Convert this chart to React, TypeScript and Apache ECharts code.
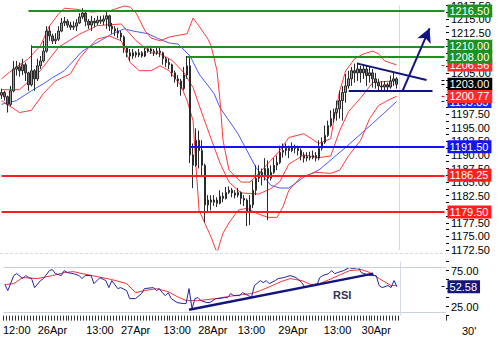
import React, { useEffect, useRef } from 'react';
import * as echarts from 'echarts';

// ---------- data ----------
const SLOT_COUNT = 149; // bars + empty future slots
const xLabelIndex = [4, 16, 32, 44, 58, 70, 83, 97, 112, 125];
const xLabelText = ['12:00', '26Apr', '13:00', '27Apr', '13:00', '28Apr', '13:00', '29Apr', '13:00', '30Apr'];
const currentIndex = 133;

// [open, close, low, high]
const candles: number[][] = [
  [1201.0, 1201.5, 1200.3, 1202.2], [1201.5, 1200.7, 1200.0, 1201.8], [1200.7, 1199.3, 1197.8, 1200.9], [1199.3, 1201.8, 1199.0, 1202.7],
  [1201.8, 1205.8, 1201.5, 1207.3], [1205.8, 1206.2, 1204.6, 1207.3], [1206.2, 1205.5, 1204.4, 1207.0], [1205.5, 1206.6, 1204.7, 1207.7],
  [1206.6, 1205.1, 1203.6, 1207.0], [1205.1, 1202.9, 1201.8, 1205.3], [1202.9, 1205.5, 1202.6, 1210.2], [1205.5, 1204.0, 1201.8, 1205.8],
  [1204.0, 1206.4, 1203.6, 1207.7], [1206.4, 1207.3, 1205.8, 1208.2], [1207.3, 1209.1, 1207.0, 1211.0], [1209.1, 1212.8, 1208.8, 1213.7],
  [1212.8, 1211.9, 1211.0, 1213.7], [1211.9, 1211.0, 1210.4, 1212.3], [1211.0, 1211.3, 1210.4, 1212.4], [1211.3, 1212.8, 1211.0, 1213.7],
  [1212.8, 1214.3, 1212.6, 1215.2], [1214.3, 1214.6, 1213.7, 1215.4], [1214.6, 1213.9, 1213.4, 1215.0], [1213.9, 1213.5, 1213.0, 1214.5],
  [1213.5, 1213.7, 1213.0, 1214.6], [1213.7, 1214.3, 1212.8, 1215.0], [1214.3, 1215.4, 1214.1, 1216.1], [1215.4, 1216.1, 1215.0, 1217.0],
  [1216.1, 1214.6, 1213.7, 1216.3], [1214.6, 1213.9, 1213.2, 1215.0], [1213.9, 1214.6, 1212.8, 1215.6], [1214.6, 1214.3, 1213.5, 1215.2],
  [1214.3, 1214.8, 1213.9, 1215.6], [1214.8, 1214.6, 1214.1, 1215.6], [1214.6, 1215.0, 1213.9, 1215.7], [1215.0, 1215.6, 1213.2, 1216.5],
  [1215.6, 1213.7, 1212.8, 1215.8], [1213.7, 1213.2, 1212.3, 1214.3], [1213.2, 1212.8, 1211.9, 1213.7], [1212.8, 1212.4, 1211.5, 1213.4],
  [1212.4, 1211.7, 1211.0, 1212.8], [1211.7, 1209.9, 1208.8, 1212.0], [1209.9, 1208.8, 1208.0, 1210.1], [1208.8, 1208.2, 1207.3, 1209.5],
  [1208.2, 1208.8, 1207.7, 1209.5], [1208.8, 1208.4, 1207.9, 1209.1], [1208.4, 1208.8, 1208.0, 1209.5], [1208.8, 1208.2, 1207.9, 1209.1],
  [1208.2, 1209.1, 1208.0, 1209.7], [1209.1, 1209.5, 1208.8, 1210.1], [1209.5, 1209.1, 1208.6, 1210.1], [1209.1, 1208.8, 1208.2, 1209.5],
  [1208.8, 1209.1, 1208.4, 1209.7], [1209.1, 1208.8, 1208.0, 1209.7], [1208.8, 1207.7, 1206.6, 1209.0], [1207.7, 1207.0, 1206.2, 1208.0],
  [1207.0, 1206.6, 1205.8, 1207.7], [1206.6, 1205.1, 1204.4, 1206.8], [1205.1, 1204.0, 1203.3, 1205.5], [1204.0, 1203.6, 1202.5, 1204.7],
  [1203.6, 1202.2, 1200.9, 1204.0], [1202.2, 1204.7, 1201.9, 1206.2], [1204.7, 1206.4, 1204.0, 1208.2], [1206.4, 1190.0, 1188.5, 1208.0],
  [1190.0, 1188.1, 1183.9, 1192.1], [1188.1, 1192.7, 1187.8, 1194.9], [1192.7, 1190.8, 1187.5, 1194.5], [1190.8, 1188.1, 1186.2, 1192.7],
  [1188.1, 1180.8, 1177.6, 1188.4], [1180.8, 1181.7, 1179.5, 1182.6], [1181.7, 1181.3, 1179.8, 1182.6], [1181.3, 1181.7, 1180.6, 1182.6],
  [1181.7, 1181.1, 1180.4, 1182.2], [1181.1, 1182.4, 1180.9, 1183.5], [1182.4, 1182.0, 1181.3, 1183.1], [1182.0, 1183.1, 1181.8, 1184.1],
  [1183.1, 1183.5, 1182.8, 1184.2], [1183.5, 1183.0, 1182.2, 1183.9], [1183.0, 1182.6, 1182.0, 1183.5], [1182.6, 1183.1, 1182.2, 1183.9],
  [1183.1, 1182.0, 1180.9, 1183.3], [1182.0, 1181.7, 1180.6, 1182.6], [1181.7, 1179.5, 1176.9, 1182.0], [1179.5, 1180.8, 1177.1, 1182.6],
  [1180.8, 1183.5, 1180.2, 1185.3], [1183.5, 1185.7, 1182.6, 1188.1], [1185.7, 1186.8, 1185.0, 1188.1], [1186.8, 1186.2, 1184.4, 1187.5],
  [1186.2, 1187.5, 1185.3, 1189.4], [1187.5, 1185.7, 1178.0, 1189.0], [1185.7, 1186.8, 1185.3, 1188.1], [1186.8, 1188.1, 1186.5, 1189.4],
  [1188.1, 1188.6, 1187.2, 1189.9], [1188.6, 1190.5, 1188.3, 1191.7], [1190.5, 1190.8, 1189.5, 1192.1], [1190.8, 1191.2, 1189.9, 1192.1],
  [1191.2, 1190.8, 1189.4, 1191.7], [1190.8, 1191.6, 1190.5, 1192.3], [1191.6, 1191.2, 1190.3, 1191.9], [1191.2, 1190.8, 1189.9, 1191.7],
  [1190.8, 1189.9, 1189.0, 1191.2], [1189.9, 1189.4, 1188.6, 1190.5], [1189.4, 1189.7, 1188.8, 1190.5], [1189.7, 1189.5, 1189.0, 1190.6],
  [1189.5, 1189.9, 1189.2, 1190.8], [1189.9, 1189.4, 1188.8, 1190.5], [1189.4, 1191.2, 1189.0, 1192.7], [1191.2, 1192.3, 1190.8, 1193.2],
  [1192.3, 1193.6, 1192.0, 1195.4], [1193.6, 1195.4, 1193.3, 1196.3], [1195.4, 1196.7, 1195.1, 1198.2], [1196.7, 1197.8, 1196.0, 1198.5],
  [1197.8, 1198.5, 1196.3, 1200.0], [1198.5, 1200.0, 1196.7, 1201.8], [1200.0, 1201.5, 1196.3, 1202.7], [1201.5, 1202.7, 1199.6, 1204.9],
  [1202.7, 1204.0, 1202.2, 1205.5], [1204.0, 1205.5, 1202.7, 1206.2], [1205.5, 1205.1, 1203.3, 1206.8], [1205.1, 1205.8, 1203.6, 1207.0],
  [1205.8, 1205.1, 1203.3, 1206.4], [1205.1, 1205.8, 1204.0, 1206.6], [1205.8, 1204.6, 1202.7, 1206.4], [1204.6, 1205.1, 1203.3, 1206.2],
  [1205.1, 1204.0, 1202.4, 1205.8], [1204.0, 1203.3, 1202.2, 1205.1], [1203.3, 1202.7, 1201.8, 1204.0], [1202.7, 1202.5, 1201.8, 1203.6],
  [1202.5, 1202.9, 1201.8, 1203.6], [1202.9, 1202.5, 1201.8, 1203.3], [1202.5, 1203.6, 1202.2, 1204.6], [1203.6, 1204.0, 1202.7, 1205.1],
  [1204.0, 1203.0, 1202.2, 1204.3],
];

// [bar index, value]
const upperBand: number[][] = [
  [0, 1204.0], [4, 1205.8], [9, 1207.7], [13, 1210.1], [16, 1213.7], [19, 1215.9], [21, 1217.0], [25, 1216.8], [30, 1216.3],
  [36, 1216.5], [41, 1217.4], [43, 1217.2], [45, 1216.1], [48, 1212.8], [50, 1211.5], [53, 1211.0], [56, 1211.7], [60, 1212.1],
  [62, 1212.3], [64, 1215.2], [66, 1213.7], [69, 1211.3], [70, 1210.1], [72, 1205.5], [73, 1200.0], [74, 1192.7], [76, 1187.2],
  [80, 1185.0], [83, 1185.0], [86, 1186.6], [90, 1189.0], [93, 1190.8], [96, 1193.2], [101, 1193.9], [106, 1192.1], [110, 1193.0],
  [111, 1196.3], [113, 1201.8], [115, 1205.5], [118, 1207.7], [121, 1208.6], [124, 1209.1], [126, 1208.6], [128, 1207.3], [132, 1206.56],
];
const middleBand: number[][] = [
  [0, 1202.0], [6, 1202.0], [13, 1205.5], [19, 1209.8], [26, 1212.2], [32, 1213.8], [40, 1214.1], [45, 1211.0], [50, 1208.8],
  [53, 1208.6], [57, 1207.4], [61, 1205.1], [64, 1202.4], [67, 1197.6], [70, 1193.0], [73, 1188.5], [76, 1185.0], [80, 1183.0],
  [86, 1182.8], [90, 1183.8], [93, 1185.1], [96, 1188.3], [101, 1190.0], [106, 1189.5], [110, 1189.8], [113, 1194.5], [116, 1198.0],
  [120, 1200.5], [124, 1203.3], [128, 1203.5], [132, 1203.67],
];
const lowerBand: number[][] = [
  [0, 1200.0], [6, 1197.8], [10, 1198.2], [14, 1201.3], [18, 1203.6], [23, 1204.9], [26, 1207.7], [29, 1209.7], [32, 1211.3],
  [36, 1211.9], [40, 1211.0], [43, 1207.0], [46, 1205.5], [50, 1205.5], [53, 1206.4], [56, 1205.5], [60, 1202.7], [62, 1200.0],
  [64, 1196.3], [65, 1187.7], [66, 1179.8], [70, 1174.9], [72, 1172.0], [74, 1175.6], [76, 1177.5], [79, 1179.8], [82, 1180.2],
  [85, 1179.3], [89, 1178.5], [92, 1178.5], [94, 1180.4], [96, 1183.5], [100, 1185.9], [105, 1186.8], [110, 1186.6], [113, 1187.2],
  [116, 1189.9], [120, 1192.7], [123, 1196.7], [126, 1199.1], [130, 1200.3], [132, 1200.77],
];
const movingAverage: number[][] = [
  [0, 1199.3], [5, 1200.0], [10, 1201.8], [14, 1203.1], [17, 1204.2], [21, 1205.5], [24, 1207.3], [27, 1209.1], [31, 1210.4],
  [33, 1211.0], [37, 1212.3], [41, 1213.2], [44, 1212.8], [49, 1212.3], [52, 1211.5], [56, 1210.6], [59, 1210.4], [63, 1208.2],
  [66, 1204.9], [71, 1201.3], [73, 1198.7], [79, 1193.9], [85, 1187.7], [90, 1184.4], [93, 1183.9], [96, 1183.9], [101, 1185.9],
  [106, 1187.2], [115, 1191.4], [124, 1195.8], [132, 1199.83],
];
const rsiLine: number[][] = [
  [0, 55.6], [1, 47.2], [3, 68.1], [4, 70.8], [6, 63.9], [7, 68.1], [8, 65.3], [9, 63.9], [10, 51.4], [12, 61.1], [13, 63.9],
  [15, 75.0], [16, 76.4], [17, 70.8], [19, 68.1], [20, 75.0], [21, 72.2], [23, 70.8], [25, 68.1], [26, 63.9], [27, 68.1], [29, 68.1],
  [30, 56.9], [32, 65.3], [34, 61.1], [35, 51.4], [36, 61.1], [38, 50.0], [39, 51.4], [41, 47.2], [42, 36.1], [44, 36.1], [46, 43.1],
  [47, 50.0], [50, 51.4], [51, 47.2], [52, 50.0], [53, 44.4], [54, 40.3], [55, 44.4], [56, 36.1], [58, 30.6], [60, 29.2], [61, 29.2],
  [62, 50.0], [63, 22.2], [64, 36.1], [65, 37.5], [66, 33.3], [68, 30.6], [69, 30.6], [71, 36.1], [72, 36.1], [74, 37.5], [75, 37.5],
  [76, 43.1], [77, 40.3], [79, 40.3], [80, 44.4], [82, 40.3], [83, 37.5], [84, 54.2], [86, 61.1], [87, 58.3], [88, 61.1], [89, 56.9],
  [91, 61.1], [92, 63.9], [94, 65.3], [96, 68.1], [98, 65.3], [100, 58.3], [101, 51.4], [103, 54.2], [105, 54.2], [106, 65.3],
  [107, 68.1], [109, 70.8], [110, 75.0], [111, 70.8], [112, 72.2], [114, 75.0], [116, 79.2], [117, 77.8], [119, 79.2], [120, 72.2],
  [121, 70.8], [123, 68.1], [125, 68.1], [126, 54.2], [127, 51.4], [129, 54.2], [130, 51.4], [131, 61.1], [132, 52.58],
];
const rsiSignal: number[][] = [
  [0, 55.6], [3, 56.9], [6, 65.3], [11, 63.9], [16, 68.1], [20, 72.2], [23, 73.6], [26, 70.8], [31, 66.7], [36, 62.5], [41, 56.9],
  [44, 44.4], [47, 47.2], [51, 50.0], [55, 45.8], [58, 38.9], [61, 33.3], [65, 33.3], [68, 34.7], [71, 36.1], [75, 38.9], [80, 41.7],
  [83, 43.1], [86, 47.2], [90, 54.2], [93, 59.7], [96, 63.9], [100, 61.1], [103, 55.6], [106, 56.9], [110, 63.9], [113, 69.4],
  [116, 75.0], [120, 76.4], [123, 72.2], [126, 63.9], [130, 54.2], [132, 54.2],
];

const levelValues = [1216.5, 1210.0, 1208.0, 1191.5, 1186.25, 1179.5];
const levelStart = [9, 10, 62, 63, 0, 0];
const levelColors = ['#1f8f1f', '#1f8f1f', '#1f8f1f', '#1414f0', '#ff1e1e', '#ff1e1e'];

const lastUpper = 1206.56;
const lastMiddle = 1203.67;
const lastClose = 1203.0;
const lastLower = 1200.77;
const lastAverage = 1199.83;
const rsiLast = 52.58;
const rsiFrame = [80, 17.5];

const trendDown = [[119, 1206.8], [142, 1203.8]];
const trendFlat = [[116, 1201.8], [144, 1201.8]];
const trendArrow = [[134, 1201.8], [143, 1213.3]];
const rsiTrend = [[62, 20.6], [124, 70.8]];

// ---------- helpers ----------
const FONT = 'Liberation Sans';
const END = SLOT_COUNT - 1;
const boxedValues = [...levelValues, lastUpper, lastClose, lastLower, lastAverage];

const boxLabel = (text: string, bg: string) => ({
  show: true,
  position: 'end',
  formatter: text,
  color: '#ffffff',
  backgroundColor: bg,
  padding: [1, 3, 0, 2],
  fontSize: 11,
  lineHeight: 12,
  fontFamily: FONT,
  distance: 3,
});

const levelLine = (value: number, start: number, color: string) => [
  { coord: [start, value], lineStyle: { color, width: 2, type: 'solid' }, label: boxLabel(value.toFixed(2), color) },
  { coord: [END, value] },
];

const markerLine = (value: number, color: string, showBox: boolean, boxColor: string) => [
  {
    coord: [END - 1, value],
    lineStyle: { color, width: 1, type: 'solid' },
    label: showBox ? boxLabel(value.toFixed(2), boxColor) : { show: false },
  },
  { coord: [END, value] },
];

const trend = (pts: number[][], width: number) => [
  { coord: pts[0], lineStyle: { color: '#14147e', width, type: 'solid' } },
  { coord: pts[1] },
];

export default function App() {
  const ref = useRef<HTMLDivElement>(null);

  useEffect(() => {
    if (!ref.current) return;
    const chart = echarts.init(ref.current, undefined, { renderer: 'svg' });

    const categories: string[] = [];
    for (let i = 0; i < SLOT_COUNT; i++) {
      const k = xLabelIndex.indexOf(i);
      categories.push(k >= 0 ? xLabelText[k] : '');
    }

    const gridRight = 54;

    chart.setOption({
      animation: false,
      backgroundColor: '#ffffff',
      grid: [
        { left: 0, right: gridRight, top: 4, height: 246 },
        { left: 0, right: gridRight, top: 261.6, height: 54 },
      ],
      xAxis: [
        {
          type: 'category', gridIndex: 0, data: categories, boundaryGap: true,
          axisLine: { show: false }, axisTick: { show: false }, axisLabel: { show: false }, splitLine: { show: false },
        },
        {
          type: 'category', gridIndex: 1, data: categories, boundaryGap: true,
          axisLine: { show: false },
          axisTick: { show: true, interval: (idx: number) => idx <= currentIndex, length: 5, lineStyle: { color: '#333' } },
          axisLabel: { show: true, interval: 0, color: '#000', fontSize: 11, fontFamily: FONT, margin: 9 },
          splitLine: { show: false },
        },
      ],
      yAxis: [
        {
          type: 'value', gridIndex: 0, position: 'right', min: 1172.5, max: 1217.5, interval: 2.5,
          axisLine: { show: false },
          axisTick: { show: true, length: 3, lineStyle: { color: '#000' } },
          minorTick: { show: true, splitNumber: 2, length: 3, lineStyle: { color: '#000' } },
          axisLabel: {
            color: '#000', fontSize: 11, fontFamily: FONT, margin: 5,
            // labels sitting fully under a value box are hidden, as in the original
            formatter: (v: number) => (boxedValues.some((b) => Math.abs(b - v) < 0.9) ? '' : v.toFixed(2)),
          },
          splitLine: { show: false },
        },
        {
          type: 'value', gridIndex: 1, position: 'right', min: 12.5, max: 87.5, interval: 12.5,
          axisLine: { show: false },
          axisTick: { show: true, length: 3, lineStyle: { color: '#000' } },
          axisLabel: {
            color: '#000', fontSize: 11, fontFamily: FONT, margin: 5,
            formatter: (v: number) => (v === 25 || v === 50 || v === 75 ? v.toFixed(2) : ''),
          },
          splitLine: { show: false },
        },
      ],
      series: [
        {
          name: 'price', type: 'candlestick', xAxisIndex: 0, yAxisIndex: 0, data: candles, barWidth: 2, z: 3,
          itemStyle: { color: '#9c9c9c', color0: '#6a6a6a', borderColor: '#2a2a2a', borderColor0: '#2a2a2a', borderWidth: 1 },
          markLine: {
            silent: true, symbol: ['none', 'none'], z: 1,
            label: { show: false },
            data: [{ xAxis: currentIndex, lineStyle: { color: '#d4dae8', width: 1, type: 'solid' } }],
          },
        },
        {
          name: 'ma', type: 'line', xAxisIndex: 0, yAxisIndex: 0, data: movingAverage, showSymbol: false, symbol: 'none',
          lineStyle: { color: '#4a58ff', width: 1 }, z: 2,
          markLine: {
            silent: true, symbol: ['none', 'none'], z: 5,
            data: [
              markerLine(lastAverage, '#1414f0', true, '#1a2ae6'),
              markerLine(lastUpper, '#ff1e1e', true, '#ff2a2a'),
              markerLine(lastMiddle, '#000000', false, '#000'),
              markerLine(lastClose, '#000000', true, '#000000'),
              markerLine(lastLower, '#ff1e1e', true, '#ff2a2a'),
            ],
          },
        },
        {
          name: 'upper', type: 'line', xAxisIndex: 0, yAxisIndex: 0, data: upperBand, showSymbol: false, symbol: 'none',
          lineStyle: { color: '#ff3a3a', width: 1 }, z: 2,
          markLine: {
            silent: true, symbol: ['none', 'none'], z: 6,
            data: levelValues.map((v, i) => levelLine(v, levelStart[i], levelColors[i])),
          },
        },
        {
          name: 'middle', type: 'line', xAxisIndex: 0, yAxisIndex: 0, data: middleBand, showSymbol: false, symbol: 'none',
          lineStyle: { color: '#ff3a3a', width: 1 }, z: 2,
        },
        {
          name: 'lower', type: 'line', xAxisIndex: 0, yAxisIndex: 0, data: lowerBand, showSymbol: false, symbol: 'none',
          lineStyle: { color: '#ff3a3a', width: 1 }, z: 2,
          markLine: {
            silent: true, symbol: ['none', 'none'], z: 7, label: { show: false },
            data: [trend(trendDown, 2), trend(trendFlat, 2)],
          },
        },
        {
          name: 'arrow', type: 'line', xAxisIndex: 0, yAxisIndex: 0, data: [], z: 2,
          markLine: {
            silent: true, symbol: ['none', 'arrow'], symbolSize: [11, 14], z: 7, label: { show: false },
            data: [trend(trendArrow, 2)],
          },
        },
        {
          name: 'rsi', type: 'line', xAxisIndex: 1, yAxisIndex: 1, data: rsiLine, showSymbol: false, symbol: 'none',
          lineStyle: { color: '#2424a8', width: 1 }, z: 3,
          markLine: {
            silent: true, symbol: ['none', 'none'], z: 5,
            data: [
              { yAxis: rsiFrame[0], lineStyle: { color: '#c8d0e2', width: 1, type: 'solid' }, label: { show: false } },
              { yAxis: rsiFrame[1], lineStyle: { color: '#c8d0e2', width: 1, type: 'solid' }, label: { show: false } },
              { xAxis: currentIndex, lineStyle: { color: '#d4dae8', width: 1, type: 'solid' }, label: { show: false } },
              markerLine(rsiLast, '#14147e', true, '#16167c'),
              [{ coord: rsiTrend[0], lineStyle: { color: '#14147e', width: 2.5, type: 'solid' }, label: { show: false } }, { coord: rsiTrend[1] }],
            ],
          },
        },
        {
          name: 'rsiSignal', type: 'line', xAxisIndex: 1, yAxisIndex: 1, data: rsiSignal, showSymbol: false, symbol: 'none',
          lineStyle: { color: '#ff3030', width: 1 }, z: 2,
        },
      ],
      graphic: [
        { type: 'line', shape: { x1: 0, y1: 253.5, x2: 446, y2: 253.5 }, style: { stroke: '#d6dbe8', lineWidth: 1, lineDash: [3, 2] }, silent: true },
        { type: 'text', left: 333, top: 289, style: { text: 'RSI', font: `bold 11px "${FONT}"`, fill: '#333355' }, silent: true },
        { type: 'text', left: 462, top: 325, style: { text: "30'", font: `11px "${FONT}"`, fill: '#000' }, silent: true },
      ],
    });

    return () => chart.dispose();
  }, []);

  return <div ref={ref} style={{ position: 'absolute', left: 0, top: 0, width: 500, height: 339 }} />;
}
